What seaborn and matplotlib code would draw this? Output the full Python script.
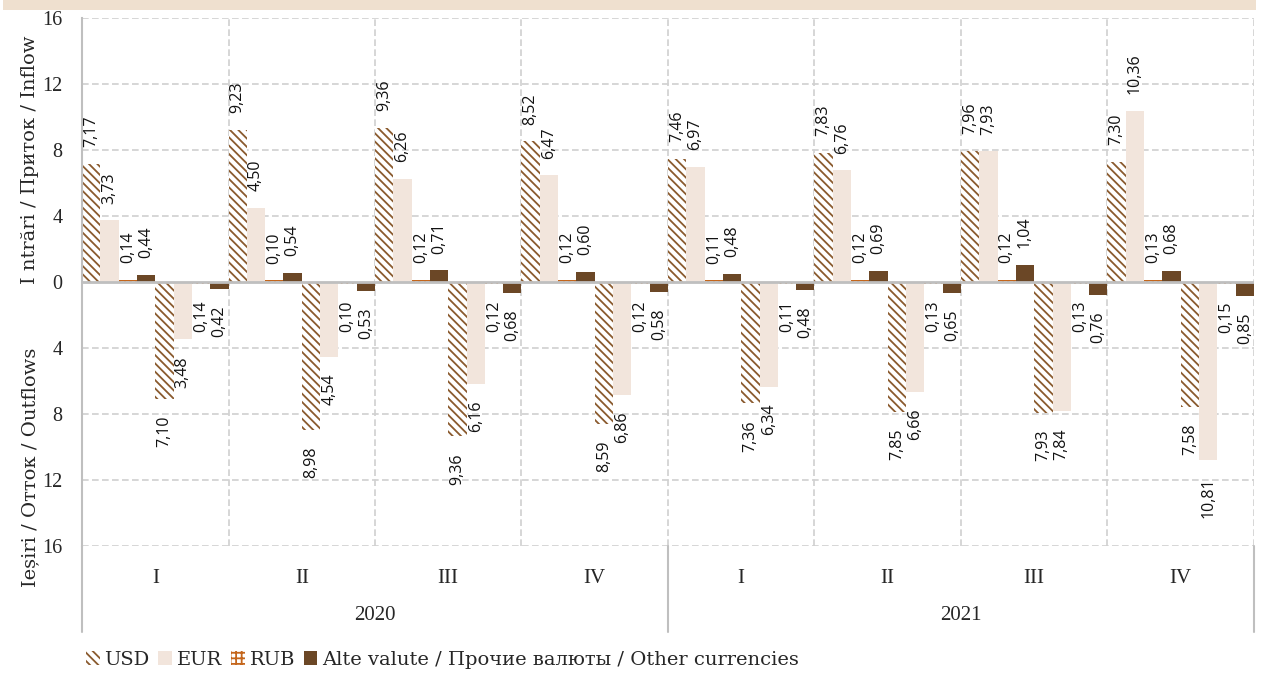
import numpy as np
import pandas as pd
import matplotlib
matplotlib.use("Agg")
import matplotlib.pyplot as plt
from matplotlib.patches import Patch, Rectangle
import seaborn as sns

# data: quarters 2020-2021, inflows and outflows by currency
years = ["2020", "2021"]
quarters = ["I", "II", "III", "IV"]
periods = [y + " " + q for y in years for q in quarters]

in_usd = [7.17, 9.23, 9.36, 8.52, 7.46, 7.83, 7.96, 7.30]
in_eur = [3.73, 4.50, 6.26, 6.47, 6.97, 6.76, 7.93, 10.36]
in_rub = [0.14, 0.10, 0.12, 0.12, 0.11, 0.12, 0.12, 0.13]
in_oth = [0.44, 0.54, 0.71, 0.60, 0.48, 0.69, 1.04, 0.68]

out_usd = [7.10, 8.98, 9.36, 8.59, 7.36, 7.85, 7.93, 7.58]
out_eur = [3.48, 4.54, 6.16, 6.86, 6.34, 6.66, 7.84, 10.81]
out_rub = [0.14, 0.10, 0.12, 0.12, 0.11, 0.13, 0.13, 0.15]
out_oth = [0.42, 0.53, 0.68, 0.58, 0.48, 0.65, 0.76, 0.85]

legend_names = ["USD", "EUR", "RUB", "Alte valute / Прочие валюты / Other currencies"]
yticks = [-16, -12, -8, -4, 0, 4, 8, 12, 16]

c_usd = "#8a5a2e"
c_eur = "#f2e5dc"
c_rub = "#c4661c"
c_oth = "#6b4726"
grid_c = "#d0d0d0"
axis_c = "#bfbfbf"

series = {
    "in USD": in_usd, "in EUR": in_eur, "in RUB": in_rub, "in OTH": in_oth,
    "out USD": [-v for v in out_usd], "out EUR": [-v for v in out_eur],
    "out RUB": [-v for v in out_rub], "out OTH": [-v for v in out_oth],
}
rows = []
for name, vals in series.items():
    for p, v in zip(periods, vals):
        rows.append({"period": p, "series": name, "value": v})
df = pd.DataFrame(rows)
hue_order = list(series.keys())

sns.set_style("white")
plt.rcParams["hatch.linewidth"] = 1.3
serif = ["Liberation Serif", "DejaVu Serif"]
wide_serif = ["DejaVu Serif"]
usd_hatch = "\\\\\\\\"

fig = plt.figure(figsize=(12.62, 6.75), dpi=100)
ax = fig.add_axes([0.065, 0.1911, 0.9286, 0.7822])

pal = [c_usd, c_eur, c_rub, c_oth] * 2
sns.barplot(data=df, x="period", y="value", hue="series", order=periods,
            hue_order=hue_order, palette=pal, width=1.0, gap=0,
            errorbar=None, saturation=1, legend=False, ax=ax, zorder=2)

styles = [
    dict(facecolor="white", edgecolor=c_usd, hatch=usd_hatch),
    dict(facecolor=c_eur, edgecolor=c_eur, hatch=None),
    dict(facecolor="white", edgecolor=c_rub, hatch="+++"),
    dict(facecolor=c_oth, edgecolor=c_oth, hatch=None),
] * 2
for cont, st in zip(ax.containers, styles):
    for bar in cont:
        bar.set_facecolor(st["facecolor"])
        bar.set_edgecolor(st["edgecolor"])
        bar.set_linewidth(0)
        if st["hatch"]:
            bar.set_hatch(st["hatch"])
    vals = [abs(b.get_height()) for b in cont]
    ax.bar_label(cont, labels=[f"{v:.2f}".replace(".", ",") for v in vals],
                 rotation=90, padding=12, fontsize=11.5, family="Open Sans",
                 color="#111111")

ax.set_xlim(-0.5, 7.5)
ax.set_ylim(-16, 16)
ax.set_yticks(yticks)
ax.set_yticklabels([str(abs(t)) for t in yticks], fontsize=14.5, family=serif)
ax.set_xticks([])
ax.set_xlabel("")
ax.set_ylabel("")
ax.tick_params(axis="y", length=0, pad=14)

# grid
for t in yticks:
    if t != 0:
        ax.axhline(t, color=grid_c, lw=1.2, ls=(0, (4, 2)), zorder=0)
for xb in np.arange(0.5, 7.6, 1.0):
    ax.axvline(xb, color=grid_c, lw=1.2, ls=(0, (4, 2)), zorder=0)
ax.axhline(0, color=axis_c, lw=2, zorder=3)
for s in ["top", "right", "bottom"]:
    ax.spines[s].set_visible(False)
ax.spines["left"].set_color(axis_c)
ax.spines["left"].set_linewidth(1.5)

# category axis below the plot
tr = ax.get_xaxis_transform()
for xb in [-0.5, 3.5, 7.5]:
    ax.plot([xb, xb], [0, -0.163], transform=tr, color=axis_c, lw=1.5,
            clip_on=False)
for i, p in enumerate(periods):
    ax.text(i, -0.061, p.split()[1], transform=tr, ha="center", va="center",
            fontsize=15, family=serif)
for j, y in enumerate(years):
    ax.text(1.5 + 4 * j, -0.131, y, transform=tr, ha="center", va="center",
            fontsize=15, family=serif)

# axis titles
fig.text(0.024, 0.763, "I ntrări / Приток / Inflow", rotation=90,
         ha="center", va="center", fontsize=14, family=wide_serif)
fig.text(0.024, 0.307, "Ieșiri / Отток / Outflows", rotation=90,
         ha="center", va="center", fontsize=14, family=wide_serif)

# top band
fig.add_artist(Rectangle((0.002, 0.985), 0.993, 0.015, transform=fig.transFigure,
                         facecolor="#efe0cf", edgecolor="none"))

handles = [
    Patch(facecolor="white", edgecolor=c_usd, hatch=usd_hatch, lw=0),
    Patch(facecolor=c_eur, edgecolor=c_eur, lw=0),
    Patch(facecolor="white", edgecolor=c_rub, hatch="+++", lw=0),
    Patch(facecolor=c_oth, edgecolor=c_oth, lw=0),
]
fig.legend(handles, legend_names, loc="center left",
           bbox_to_anchor=(0.062, 1 - 660 / 675), borderaxespad=0,
           ncol=4, frameon=False, prop={"family": wide_serif, "size": 14},
           handlelength=0.7, handleheight=0.7, handletextpad=0.25,
           columnspacing=0.45)

fig.savefig("out.png", dpi=100)
